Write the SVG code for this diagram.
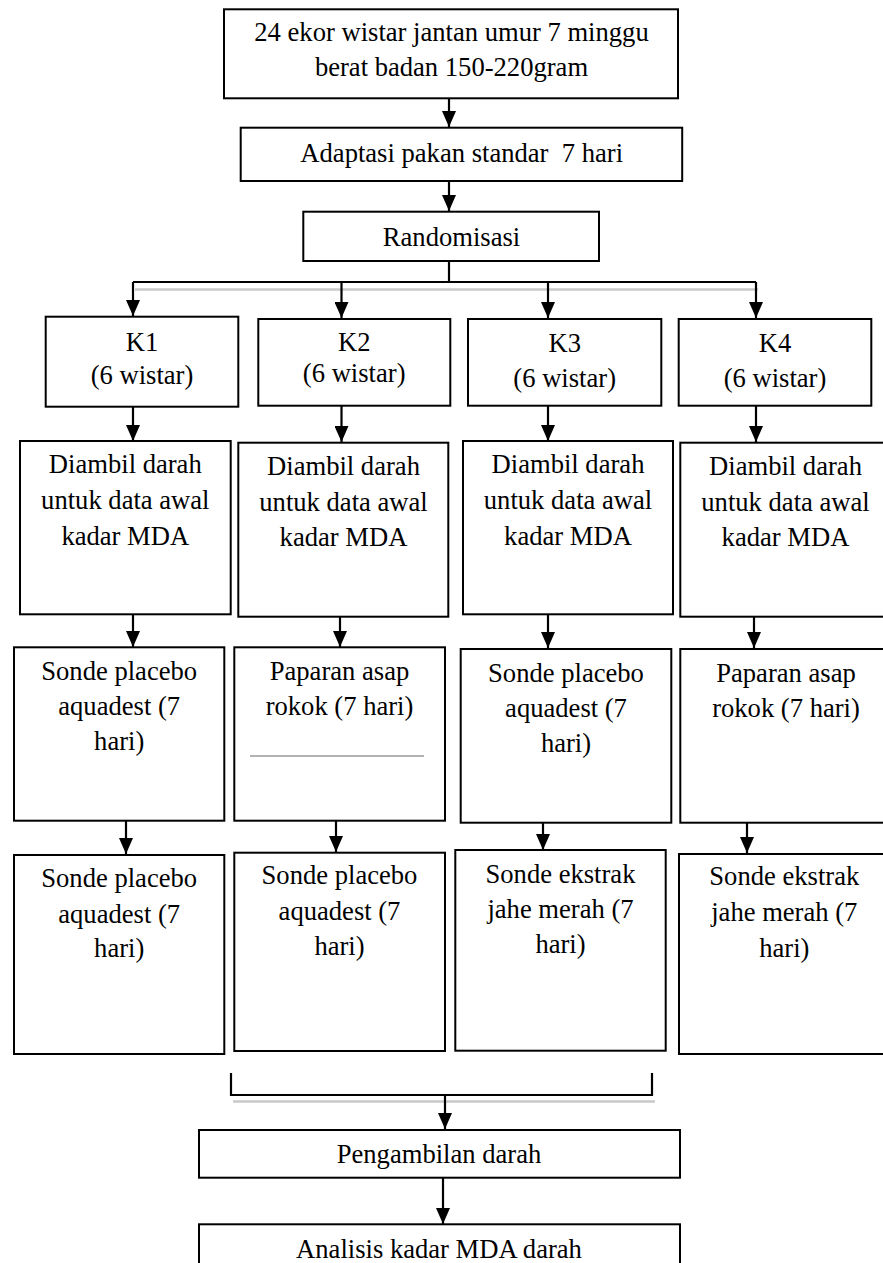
<svg xmlns="http://www.w3.org/2000/svg" width="883" height="1263" viewBox="0 0 883 1263">
<style>
.box{fill:#fff;stroke:#000;stroke-width:2}
.t{font-family:"Liberation Serif","Times New Roman",serif;font-size:26.6px;fill:#000;text-anchor:middle}
.c{fill:none;stroke:#000;stroke-width:2.2}
.sh{fill:none;stroke:#c8c8c8;stroke-width:2.5}
</style>
<defs>
<marker id="ah" viewBox="0 0 16 14" refX="16" refY="7" markerWidth="16" markerHeight="14" markerUnits="userSpaceOnUse" orient="auto">
<path d="M0,0 L16,7 L0,14 Z" fill="#000"/>
</marker>
</defs>
<rect x="0" y="0" width="883" height="1263" fill="#fff"/>
<g id="connectors">
<line class="sh" x1="135" y1="289.5" x2="758" y2="289.5"/>
<line class="sh" x1="233" y1="1101.5" x2="655" y2="1101.5"/>
<path class="c" d="M449,98 V127" marker-end="url(#ah)"/>
<path class="c" d="M449,181 V211" marker-end="url(#ah)"/>
<path class="c" d="M449,261 V282"/>
<path class="c" d="M133,282 H756"/>
<path class="c" d="M133,282 V316" marker-end="url(#ah)"/>
<path class="c" d="M341.5,282 V318" marker-end="url(#ah)"/>
<path class="c" d="M548,282 V318" marker-end="url(#ah)"/>
<path class="c" d="M756,282 V318" marker-end="url(#ah)"/>
<path class="c" d="M133,406 V441" marker-end="url(#ah)"/>
<path class="c" d="M341.5,406 V442" marker-end="url(#ah)"/>
<path class="c" d="M548,406 V441" marker-end="url(#ah)"/>
<path class="c" d="M756,406 V442" marker-end="url(#ah)"/>
<path class="c" d="M133,614 V647" marker-end="url(#ah)"/>
<path class="c" d="M340,615 V647" marker-end="url(#ah)"/>
<path class="c" d="M548,614 V648" marker-end="url(#ah)"/>
<path class="c" d="M754,613 V648" marker-end="url(#ah)"/>
<path class="c" d="M126,821 V854" marker-end="url(#ah)"/>
<path class="c" d="M336,821 V852" marker-end="url(#ah)"/>
<path class="c" d="M543,819 V850" marker-end="url(#ah)"/>
<path class="c" d="M747,821 V853" marker-end="url(#ah)"/>
<path class="c" d="M231,1073 V1095 H652 V1073"/>
<path class="c" d="M445,1095 V1129" marker-end="url(#ah)"/>
<path class="c" d="M443,1178 V1224" marker-end="url(#ah)"/>
</g>
<g id="n-start">
<rect class="box" x="224" y="9.3" width="454" height="89"/>
<text class="t" x="451.5" y="40.7">24 ekor wistar jantan umur 7 minggu</text>
<text class="t" x="451.5" y="76">berat badan 150-220gram</text>
</g>
<g id="n-adaptasi">
<rect class="box" x="240.7" y="127.7" width="441.5" height="53.3"/>
<text class="t" x="461.7" y="161.7" xml:space="preserve">Adaptasi pakan standar  7 hari</text>
</g>
<g id="n-random">
<rect class="box" x="303.3" y="211.7" width="295.7" height="49.3"/>
<text class="t" x="451.5" y="246">Randomisasi</text>
</g>
<g id="n-k1">
<rect class="box" x="45.7" y="316.7" width="192.6" height="90"/>
<text class="t" x="142" y="350.7">K1</text>
<text class="t" x="142" y="384.3">(6 wistar)</text>
</g>
<g id="n-k2">
<rect class="box" x="258.3" y="319" width="192" height="86.7"/>
<text class="t" x="354.2" y="350.7">K2</text>
<text class="t" x="354.2" y="381.7">(6 wistar)</text>
</g>
<g id="n-k3">
<rect class="box" x="468" y="319" width="193.3" height="86.7"/>
<text class="t" x="564.7" y="351.7">K3</text>
<text class="t" x="564.7" y="386.7">(6 wistar)</text>
</g>
<g id="n-k4">
<rect class="box" x="678.7" y="319" width="192.6" height="86.7"/>
<text class="t" x="775" y="351.7">K4</text>
<text class="t" x="775" y="386.7">(6 wistar)</text>
</g>
<g id="n-d1">
<rect class="box" x="20" y="441" width="210.7" height="173.3"/>
<text class="t" x="125.3" y="473.3">Diambil darah</text>
<text class="t" x="125.3" y="509">untuk data awal</text>
<text class="t" x="125.3" y="545">kadar MDA</text>
</g>
<g id="n-d2">
<rect class="box" x="238.3" y="442.7" width="210" height="174"/>
<text class="t" x="343.5" y="475">Diambil darah</text>
<text class="t" x="343.5" y="510.7">untuk data awal</text>
<text class="t" x="343.5" y="546">kadar MDA</text>
</g>
<g id="n-d3">
<rect class="box" x="463" y="441" width="210" height="173.3"/>
<text class="t" x="568" y="473.3">Diambil darah</text>
<text class="t" x="568" y="509">untuk data awal</text>
<text class="t" x="568" y="545">kadar MDA</text>
</g>
<g id="n-d4">
<rect class="box" x="680.3" y="442.7" width="211" height="174"/>
<text class="t" x="785.5" y="475">Diambil darah</text>
<text class="t" x="785.5" y="510.7">untuk data awal</text>
<text class="t" x="785.5" y="546">kadar MDA</text>
</g>
<g id="n-r3-1">
<rect class="box" x="14" y="647.3" width="210.3" height="173.4"/>
<text class="t" x="119.2" y="680">Sonde placebo</text>
<text class="t" x="119.2" y="715">aquadest (7</text>
<text class="t" x="119.2" y="750">hari)</text>
</g>
<g id="n-r3-2">
<rect class="box" x="234.3" y="647.3" width="210.7" height="173.4"/>
<text class="t" x="339.5" y="680">Paparan asap</text>
<text class="t" x="339.5" y="715">rokok (7 hari)</text>
<line x1="250" y1="756" x2="424" y2="756" stroke="#999" stroke-width="1.5"/>
</g>
<g id="n-r3-3">
<rect class="box" x="460.7" y="649" width="210.6" height="173.7"/>
<text class="t" x="566" y="681.7">Sonde placebo</text>
<text class="t" x="566" y="716.7">aquadest (7</text>
<text class="t" x="566" y="751.7">hari)</text>
</g>
<g id="n-r3-4">
<rect class="box" x="680.3" y="649" width="211" height="173.7"/>
<text class="t" x="786" y="681.7">Paparan asap</text>
<text class="t" x="786" y="716.7">rokok (7 hari)</text>
</g>
<g id="n-r4-1">
<rect class="box" x="14" y="855" width="210.3" height="199"/>
<text class="t" x="119.2" y="886.7">Sonde placebo</text>
<text class="t" x="119.2" y="922.7">aquadest (7</text>
<text class="t" x="119.2" y="957.3">hari)</text>
</g>
<g id="n-r4-2">
<rect class="box" x="234.3" y="852.7" width="210.7" height="198.3"/>
<text class="t" x="339.5" y="884">Sonde placebo</text>
<text class="t" x="339.5" y="920">aquadest (7</text>
<text class="t" x="339.5" y="955">hari)</text>
</g>
<g id="n-r4-3">
<rect class="box" x="455.3" y="850" width="210.4" height="200.7"/>
<text class="t" x="560.5" y="882.7">Sonde ekstrak</text>
<text class="t" x="560.5" y="918.3">jahe merah (7</text>
<text class="t" x="560.5" y="953.3">hari)</text>
</g>
<g id="n-r4-4">
<rect class="box" x="679" y="854" width="211" height="200"/>
<text class="t" x="784.3" y="885">Sonde ekstrak</text>
<text class="t" x="784.3" y="921">jahe merah (7</text>
<text class="t" x="784.3" y="956.7">hari)</text>
</g>
<g id="n-pengambilan">
<rect class="box" x="199" y="1130" width="481" height="47.7"/>
<text class="t" x="439" y="1163.3">Pengambilan darah</text>
</g>
<g id="n-analisis">
<rect class="box" x="199" y="1224.3" width="481" height="50"/>
<text class="t" x="439" y="1258.3">Analisis kadar MDA darah</text>
</g>
</svg>
